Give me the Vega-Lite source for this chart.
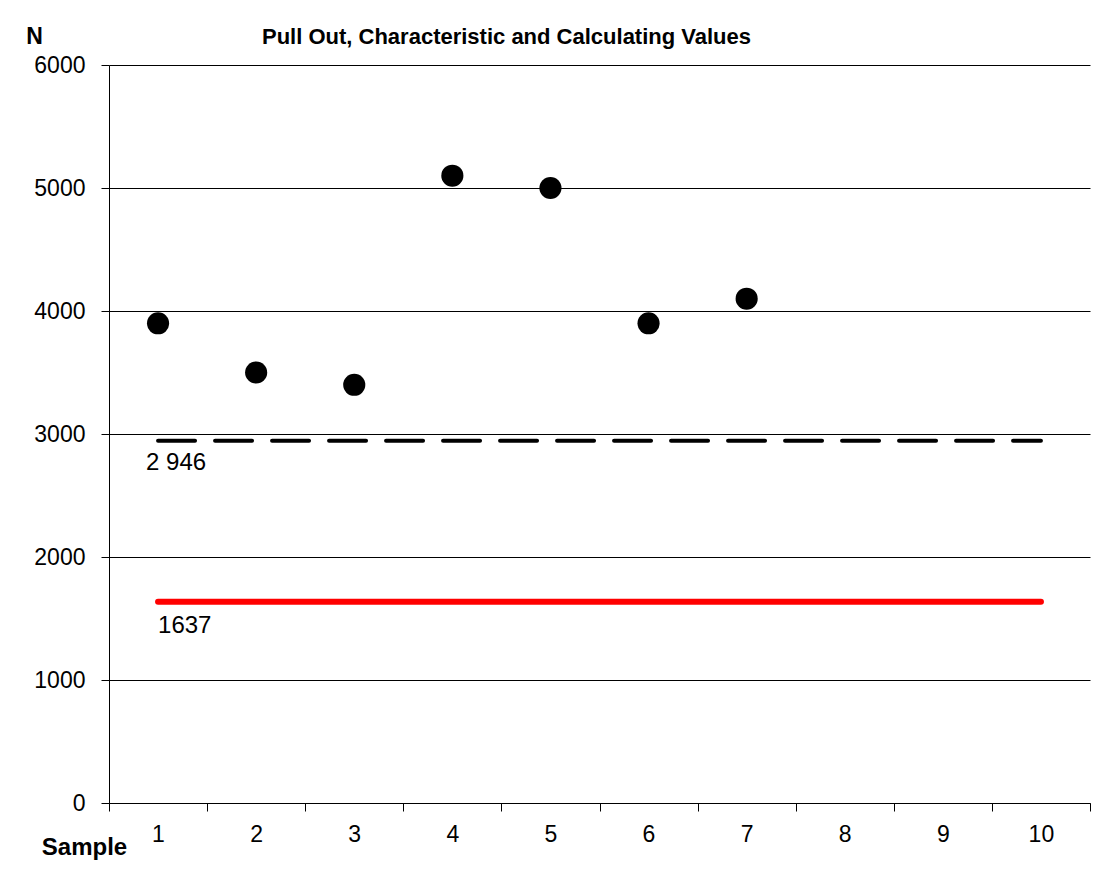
{
  "$schema": "https://vega.github.io/schema/vega-lite/v6.json",
  "autosize": "none",
  "width": 981,
  "height": 738,
  "padding": {"left": 109, "top": 65, "right": 4, "bottom": 69},
  "background": "white",
  "config": {
    "font": "Liberation Sans",
    "view": {"stroke": null},
    "axis": {"labelColor": "#000", "titleColor": "#000", "domainColor": "#000", "tickColor": "#000", "labelFont": "Liberation Sans", "titleFont": "Liberation Sans"}
  },
  "title": {
    "text": "Pull Out, Characteristic and Calculating Values",
    "fontSize": 22,
    "fontWeight": "bold",
    "font": "Liberation Sans",
    "color": "#000",
    "anchor": "middle",
    "baseline": "alphabetic",
    "dx": -93,
    "offset": -41
  },
  "layer": [
    {
      "data": {"values": [
        {"start": 1, "end": 10, "value": 2946}
      ]},
      "mark": {"type": "rule", "color": "#000", "strokeWidth": 4, "strokeCap": "round", "strokeDash": [37, 20]},
      "encoding": {
        "x": {"field": "start", "type": "quantitative",
          "scale": {"domain": [0.5, 10.5], "nice": false, "zero": false},
          "axis": {
            "values": [0.5, 1.5, 2.5, 3.5, 4.5, 5.5, 6.5, 7.5, 8.5, 9.5, 10.5],
            "labelExpr": "datum.value < 10 ? format(datum.value + 0.5, 'd') : ''",
            "labelOffset": 49,
            "labelFontSize": 23,
            "labelPadding": 12,
            "labelFlush": false,
            "labelOverlap": false,
            "tickSize": 8,
            "tickWidth": 1,
            "domainWidth": 1,
            "grid": false,
            "title": "Sample",
            "titleFontSize": 24,
            "titleFontWeight": "bold",
            "titleAnchor": "start",
            "titleAlign": "center",
            "titleBaseline": "middle",
            "titleX": -25,
            "titleY": 44
          }
        },
        "x2": {"field": "end"},
        "y": {"field": "value", "type": "quantitative",
          "scale": {"domain": [0, 6000], "nice": false},
          "axis": {
            "values": [0, 1000, 2000, 3000, 4000, 5000, 6000],
            "format": "d",
            "labelFontSize": 23,
            "labelPadding": 16,
            "tickSize": 8,
            "tickWidth": 1,
            "domainWidth": 1,
            "grid": true,
            "gridColor": "#000",
            "gridWidth": 1,
            "gridOpacity": 1,
            "title": "N",
            "titleAngle": 0,
            "titleFontSize": 23,
            "titleFontWeight": "bold",
            "titleAlign": "center",
            "titleBaseline": "middle",
            "titleX": -75,
            "titleY": -29
          }
        }
      }
    },
    {
      "data": {"values": [
        {"start": 1, "end": 10, "value": 1637}
      ]},
      "mark": {"type": "rule", "color": "#ff0000", "strokeWidth": 6, "strokeCap": "round"},
      "encoding": {
        "x": {"field": "start", "type": "quantitative"},
        "x2": {"field": "end"},
        "y": {"field": "value", "type": "quantitative"}
      }
    },
    {
      "data": {"values": [
        {"sample": 1, "N": 3900},
        {"sample": 2, "N": 3500},
        {"sample": 3, "N": 3400},
        {"sample": 4, "N": 5100},
        {"sample": 5, "N": 5000},
        {"sample": 6, "N": 3900},
        {"sample": 7, "N": 4100}
      ]},
      "mark": {"type": "circle", "color": "#000", "opacity": 1, "size": 490},
      "encoding": {
        "x": {"field": "sample", "type": "quantitative"},
        "y": {"field": "N", "type": "quantitative"}
      }
    },
    {
      "data": {"values": [
        {"sample": 1, "N": 2946, "label": "2 946"}
      ]},
      "mark": {"type": "text", "align": "left", "baseline": "middle", "fontSize": 24, "color": "#000", "dx": -12, "dy": 22},
      "encoding": {
        "x": {"field": "sample", "type": "quantitative"},
        "y": {"field": "N", "type": "quantitative"},
        "text": {"field": "label"}
      }
    },
    {
      "data": {"values": [
        {"sample": 1, "N": 1637, "label": "1637"}
      ]},
      "mark": {"type": "text", "align": "left", "baseline": "middle", "fontSize": 24, "color": "#000", "dx": 0, "dy": 24},
      "encoding": {
        "x": {"field": "sample", "type": "quantitative"},
        "y": {"field": "N", "type": "quantitative"},
        "text": {"field": "label"}
      }
    }
  ]
}
